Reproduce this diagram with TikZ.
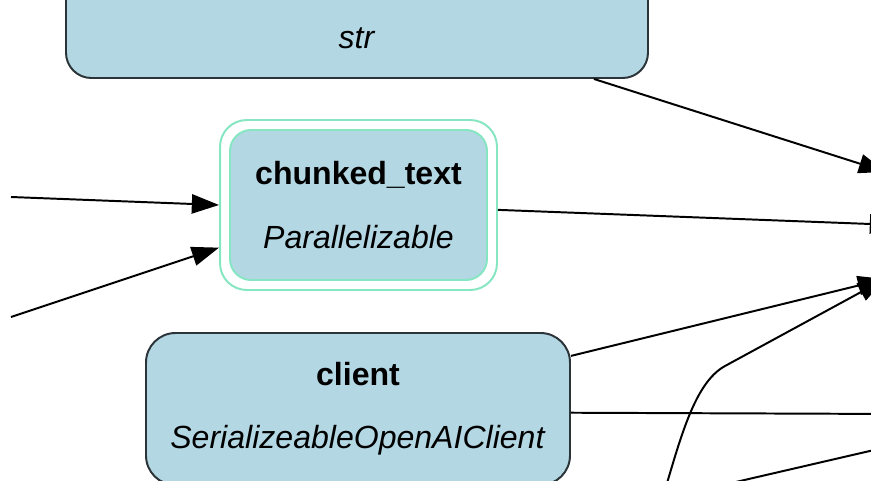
\documentclass[tikz,border=0pt]{standalone}
\usepackage{fontspec}
\setmainfont{Liberation Sans}
\usetikzlibrary{arrows.meta,positioning,calc,fit}
\definecolor{DagBlue}{HTML}{B3D8E4}
\definecolor{DagLine}{HTML}{2B3438}
\definecolor{DagPar}{HTML}{86E6C2}

\begin{document}
\begin{tikzpicture}[font=\fontsize{22.8}{45}\selectfont, >={Triangle[length=6.8mm,width=4.8mm]},
  fnode/.style={rounded corners=18pt, draw=DagLine, line width=1.4pt, fill=DagBlue, align=center},
  parnode/.style={rounded corners=15pt, draw=DagPar, line width=1.4pt, fill=DagBlue, align=center, minimum width=6.425cm, minimum height=3.75cm},
  parring/.style={rounded corners=19pt, draw=DagPar, line width=1.4pt, inner sep=0.225cm},
  arr/.style={->, line width=1.4pt, black},
  link/.style={line width=1.4pt, black}]
\useasboundingbox (0,0) rectangle (21.775,12);
\clip (0,0) rectangle (21.775,12);
% function nodes
\node[fnode, minimum width=14.55cm, minimum height=3.8cm] (str) at (8.925,11.95) {};
\node (strtype) at (8.925,11.05) {\textit{str}};
\node[parnode] (chunked) at (8.9625,6.875) {\textbf{chunked\_text}\\\textit{Parallelizable}};
\node[parring, fit=(chunked)] (chunkedring) {};
\node[fnode, rounded corners=21pt, minimum width=10.6cm, minimum height=3.8cm] (client) at (8.95,1.775) {\textbf{client}\\\textit{SerializeableOpenAIClient}};
% loose ends of edges
\coordinate (in1) at (0.275,7.075);
\coordinate (in2) at (0.275,4.075);
\coordinate (tgtA) at (22.15,7.7);
\coordinate (tgtB) at (22.425,6.375);
\coordinate (tgtC) at (22.125,5.025);
\coordinate (tgtE) at (22.5,1.65);
\coordinate (tgtF) at (22.5,0.9);
\coordinate (srcD) at (16.55,-0.5);
\coordinate (srcF) at (16.45,-0.5);
% edges
\draw[arr] (in1) -- (chunkedring.west);
\draw[arr] (in2) -- (chunkedring.197.6);
\draw[arr] (str.342.3) -- (tgtA);
\draw[arr] (chunkedring.-2) -- (tgtB);
\draw[arr] (client.14.3) -- (tgtC);
\draw[arr] (srcD) .. controls (17.0,1.0) and (17.35,2.425) .. (18.125,2.85) -- (tgtC);
\draw[link] (client.-1) -- (tgtE);
\draw[link] (srcF) -- (tgtF);
\end{tikzpicture}
\end{document}
